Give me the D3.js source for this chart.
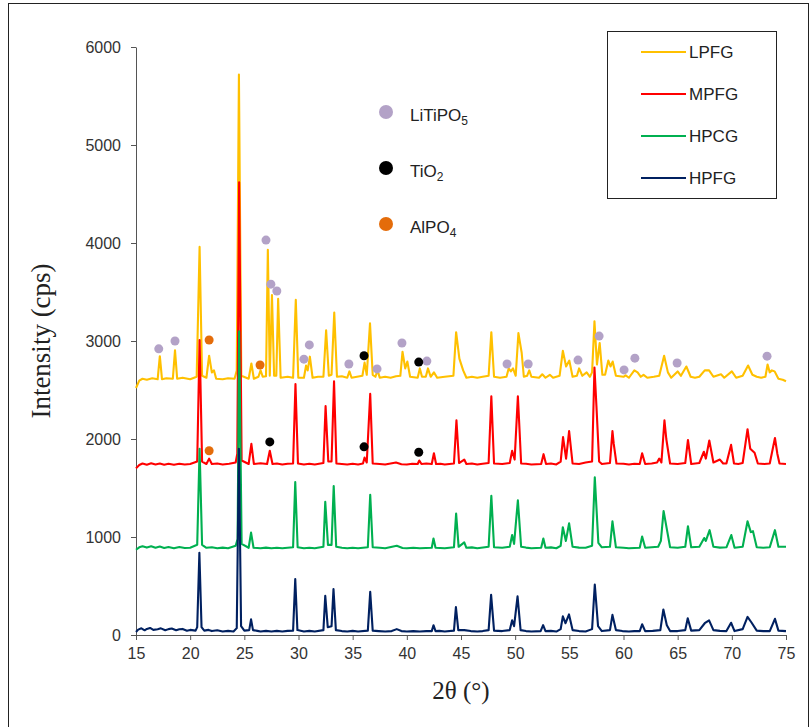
<!DOCTYPE html>
<html>
<head>
<meta charset="utf-8">
<script src="https://cdn.jsdelivr.net/npm/d3@7"></script>
<style>
  body { margin: 0; background: #fff; }
  svg { display: block; }
</style>
</head>
<body>
<div id="chart_res"></div>
<script>
// XRD patterns, [2theta, cps] (already offset)
const LPFG = [[15,2520],[15.3,2595],[15.6,2615],[16,2605],[16.5,2620],[17,2610],[17.2,2845],[17.4,2610],[17.8,2620],[18.4,2615],[18.6,2905],[18.8,2615],[19.3,2625],[20,2610],[20.6,2635],[20.87,3960],[21.1,2645],[21.5,2625],[21.75,2850],[22.0,2680],[22.2,2700],[22.4,2615],[23,2610],[23.5,2620],[24.1,2615],[24.3,2700],[24.5,5720],[24.72,2645],[25.4,2615],[25.65,2770],[25.88,2615],[26.3,2635],[26.5,2700],[26.7,2635],[27.0,2640],[27.17,3930],[27.35,2645],[27.55,3470],[27.75,2645],[27.95,2645],[28.12,3430],[28.35,2625],[29.0,2635],[29.5,2625],[29.75,3420],[29.98,2625],[30.5,2625],[30.7,2750],[30.85,2700],[31.05,2840],[31.3,2625],[31.8,2635],[32.3,2635],[32.55,3110],[32.8,2645],[33.05,2655],[33.3,3290],[33.55,2635],[34.0,2640],[34.5,2625],[34.7,2690],[34.9,2625],[35.4,2635],[35.9,2645],[36.1,2780],[36.3,2655],[36.6,3180],[36.85,2655],[37.1,2635],[37.3,2700],[37.5,2625],[38.0,2635],[38.5,2625],[39.0,2640],[39.4,2645],[39.6,2890],[39.85,2720],[40.05,2790],[40.3,2635],[41.0,2625],[41.2,2720],[41.4,2635],[41.75,2635],[41.95,2720],[42.2,2635],[42.5,2680],[42.8,2625],[43.5,2635],[44.3,2645],[44.55,3090],[44.85,2820],[45.2,2700],[45.5,2625],[46.0,2635],[46.5,2625],[47.0,2635],[47.55,2645],[47.8,3090],[48.05,2635],[48.6,2625],[49.2,2635],[49.4,2720],[49.6,2690],[49.8,2720],[50.05,2645],[50.3,3080],[50.6,2880],[50.8,2635],[51.1,2645],[51.3,2700],[51.5,2635],[52.2,2625],[52.5,2660],[52.8,2625],[53.2,2655],[53.5,2625],[54.1,2645],[54.4,2900],[54.7,2740],[55.0,2800],[55.3,2635],[55.7,2645],[55.9,2720],[56.2,2645],[56.6,2680],[56.9,2635],[57.1,2680],[57.32,3200],[57.55,2760],[57.8,2980],[58.05,2655],[58.3,2655],[58.6,2800],[58.8,2740],[59.0,2790],[59.3,2645],[60.0,2635],[60.2,2650],[60.5,2625],[61.0,2700],[61.3,2680],[61.6,2635],[61.85,2655],[62.2,2625],[62.8,2635],[63.3,2645],[63.75,2850],[64.1,2680],[64.4,2625],[65.0,2690],[65.3,2645],[65.8,2740],[66.2,2635],[66.6,2625],[67,2635],[67.5,2700],[67.9,2700],[68.3,2635],[69.0,2660],[69.3,2625],[70.0,2690],[70.4,2625],[71.0,2645],[71.5,2750],[71.9,2655],[72.3,2635],[72.7,2625],[73.1,2635],[73.3,2760],[73.5,2680],[73.7,2700],[73.95,2690],[74.3,2615],[74.7,2605],[75,2590]];

const MPFG = [[15,1700],[15.3,1735],[15.6,1750],[16,1738],[16.4,1752],[16.8,1740],[17.2,1750],[17.6,1738],[18,1748],[18.5,1738],[19,1748],[19.5,1740],[20,1745],[20.65,1770],[20.87,3010],[21.1,1770],[21.5,1745],[21.75,1800],[22,1745],[22.5,1750],[23,1740],[23.6,1748],[24.2,1760],[24.35,1850],[24.52,4620],[24.75,1780],[25.4,1745],[25.65,1950],[25.88,1745],[26.5,1752],[27.1,1745],[27.35,1880],[27.6,1745],[28.0,1750],[28.5,1740],[29.0,1748],[29.5,1750],[29.72,2560],[29.95,1750],[30.5,1740],[31.0,1748],[31.5,1740],[32.3,1755],[32.5,2335],[32.75,1770],[33.05,1770],[33.28,2590],[33.5,1750],[34.0,1745],[34.5,1740],[35.0,1748],[35.5,1740],[35.95,1750],[36.1,1810],[36.3,1760],[36.62,2460],[36.85,1750],[37.5,1745],[38,1740],[39,1760],[39.5,1742],[40,1740],[40.5,1748],[41,1745],[41.15,1780],[41.35,1745],[41.8,1750],[42.3,1745],[42.5,1855],[42.7,1745],[43.1,1748],[43.5,1740],[44.35,1750],[44.58,2190],[44.82,1755],[45.3,1790],[45.5,1745],[46.0,1750],[46.5,1740],[47.0,1748],[47.55,1755],[47.8,2435],[48.05,1750],[48.8,1745],[49.5,1755],[49.72,1880],[49.95,1790],[50.25,2435],[50.4,2100],[50.55,1750],[51.0,1748],[51.5,1740],[52.4,1745],[52.62,1845],[52.85,1745],[53.3,1750],[53.8,1740],[54.2,1770],[54.42,2020],[54.7,1800],[54.98,2080],[55.3,1750],[55.9,1745],[56.5,1760],[57.1,1770],[57.32,2730],[57.5,2340],[57.75,1770],[58,1745],[58.75,1755],[58.98,2080],[59.1,1950],[59.35,1750],[60.0,1748],[60.5,1740],[61.0,1748],[61.5,1745],[61.72,1855],[62,1745],[62.6,1750],[63.1,1760],[63.3,1800],[63.5,1760],[63.78,2190],[63.95,2000],[64.3,1750],[65.0,1745],[65.7,1755],[65.95,1990],[66.25,1745],[67,1755],[67.42,1870],[67.6,1800],[67.92,1985],[68.3,1760],[68.9,1790],[69.2,1750],[69.5,1750],[69.93,1940],[70.2,1750],[70.6,1745],[71,1755],[71.45,2100],[71.7,1900],[71.9,1880],[72.1,1860],[72.4,1750],[73.0,1745],[73.5,1750],[73.98,2010],[74.2,1850],[74.4,1750],[75,1745]];

const HPCG = [[15,870],[15.3,895],[15.6,905],[16,892],[16.4,905],[16.8,890],[17.2,902],[17.6,888],[18,898],[18.5,886],[19,898],[19.5,888],[20,890],[20.65,920],[20.87,1900],[21.1,920],[21.5,890],[22.0,895],[22.5,885],[23,892],[23.5,885],[24.2,910],[24.38,980],[24.52,3100],[24.75,930],[25.4,890],[25.62,1045],[25.85,890],[26.5,885],[27.0,892],[27.5,885],[28.0,890],[28.5,885],[29.5,895],[29.7,1560],[29.92,895],[30.5,885],[31.0,891],[31.5,885],[32.3,900],[32.47,1360],[32.72,920],[33.05,920],[33.25,1520],[33.48,900],[34.0,890],[34.5,885],[35.0,891],[35.5,885],[36.4,895],[36.62,1430],[36.85,895],[37.5,890],[38,885],[39.07,910],[39.6,887],[40,885],[40.6,891],[41.2,885],[42.3,890],[42.46,985],[42.65,890],[43.5,885],[44.35,895],[44.55,1240],[44.78,900],[45.3,945],[45.5,890],[46.0,894],[46.5,885],[47.55,900],[47.8,1420],[48.05,895],[48.8,890],[49.5,900],[49.72,1020],[49.9,930],[50.25,1375],[50.55,900],[51.0,892],[51.5,885],[52.4,890],[52.6,985],[52.8,890],[53.3,894],[53.8,885],[54.2,910],[54.4,1100],[54.68,960],[54.98,1140],[55.3,900],[55.9,892],[56.5,890],[57.1,910],[57.35,1610],[57.68,940],[58,895],[58.75,900],[58.98,1160],[59.3,895],[60.0,890],[60.5,885],[61.5,890],[61.72,1005],[62,890],[62.6,895],[63.2,900],[63.45,960],[63.7,1265],[64.0,1080],[64.3,895],[65.0,890],[65.7,900],[65.95,1110],[66.25,895],[67,900],[67.45,990],[67.6,960],[67.95,1070],[68.3,900],[68.9,892],[69.5,895],[69.95,1020],[70.25,890],[71,900],[71.45,1160],[71.75,1050],[71.95,1060],[72.3,895],[72.9,890],[73.5,895],[73.98,1070],[74.3,900],[75,900]];

const HPFG = [[15,30],[15.2,55],[15.5,68],[15.8,48],[16,62],[16.3,72],[16.6,52],[17,58],[17.3,68],[17.7,48],[18,60],[18.3,66],[18.7,48],[19,58],[19.3,62],[19.7,44],[20,52],[20.5,45],[20.65,80],[20.85,840],[21.05,80],[21.3,45],[21.7,52],[22,40],[22.5,48],[23,35],[23.5,42],[24,35],[24.3,70],[24.5,1900],[24.7,90],[25.0,45],[25.45,50],[25.62,160],[25.8,50],[26.2,42],[26.5,35],[27.0,42],[27.5,35],[28.0,42],[28.5,35],[29.0,42],[29.5,45],[29.7,570],[29.9,50],[30.5,35],[31.0,42],[31.5,35],[32.3,50],[32.47,400],[32.7,80],[33.05,90],[33.23,470],[33.45,50],[34.0,40],[34.5,35],[35.0,42],[35.5,35],[36.4,45],[36.62,440],[36.85,45],[37.4,40],[38,35],[38.6,40],[39.07,60],[39.5,40],[40,35],[40.6,40],[41.2,35],[41.8,40],[42.3,40],[42.46,100],[42.65,40],[43.0,42],[43.5,35],[44.35,45],[44.53,285],[44.75,50],[45.3,50],[45.9,40],[46.5,35],[47.0,40],[47.55,50],[47.78,410],[48.05,45],[48.8,40],[49.5,50],[49.72,150],[49.9,90],[50.22,395],[50.5,50],[51.0,40],[51.5,35],[52.35,40],[52.58,100],[52.8,40],[53.3,42],[53.8,35],[54.2,60],[54.4,190],[54.65,120],[54.97,210],[55.3,50],[55.9,40],[56.5,35],[57.1,60],[57.35,515],[57.65,90],[58,40],[58.75,50],[58.98,205],[59.3,50],[59.9,40],[60.5,35],[61.0,40],[61.5,40],[61.72,110],[62,40],[62.7,42],[63.4,50],[63.68,260],[64,100],[64.3,40],[65.0,40],[65.7,50],[65.93,170],[66.25,45],[67,50],[67.5,120],[67.9,150],[68.3,50],[68.9,42],[69.5,40],[69.93,125],[70.25,40],[71.0,60],[71.45,185],[71.8,130],[72.3,45],[72.9,40],[73.5,40],[73.98,165],[74.3,45],[75,40]];

// phase markers, [2theta, cps]
const liTiPO5 = [[17.1,2920],[18.6,3000],[27.0,4030],[27.45,3580],[28.0,3510],[30.5,2815],[31.0,2960],[34.65,2765],[37.25,2715],[39.55,2980],[41.85,2795],[49.25,2765],[51.2,2765],[55.8,2805],[57.75,3050],[60.05,2705],[61.05,2825],[64.95,2775],[73.25,2845]];
const tiO2 = [[36.05,2850],[41.1,2785],[27.35,1970],[36.05,1920],[41.1,1865]];
const alPO4 = [[21.75,3010],[26.45,2755],[21.75,1880]];

const seriesNames = ["LPFG", "MPFG", "HPCG", "HPFG"];
const seriesData = [LPFG, MPFG, HPCG, HPFG];
const seriesColors = ["#ffc000", "#ff0000", "#00b050", "#002060"];

const xTicks = [15, 20, 25, 30, 35, 40, 45, 50, 55, 60, 65, 70, 75];
const yTicks = [0, 1000, 2000, 3000, 4000, 5000, 6000];

// dimensions
const margin = {top: 47, right: 26, bottom: 92, left: 136},
    svgWidth = 812, svgHeight = 727,
    width = svgWidth - margin.left - margin.right,
    height = svgHeight - margin.top - margin.bottom;

const svg = d3.select("#chart_res").append("svg")
    .attr("width", svgWidth)
    .attr("height", svgHeight);

svg.append("rect")
    .attr("width", svgWidth).attr("height", svgHeight)
    .attr("fill", "#fff");

// outer frame
svg.append("rect")
    .attr("x", 8.5).attr("y", 3.5)
    .attr("width", 800).attr("height", 740)
    .attr("fill", "none")
    .attr("stroke", "#222")
    .attr("stroke-width", 1);

const g = svg.append("g")
    .attr("transform", "translate(" + margin.left + "," + margin.top + ")");

const x = d3.scaleLinear().domain([15, 75]).range([0, width]);
const y = d3.scaleLinear().domain([0, 6000]).range([height, 0]);

// axes
const xAxis = g.append("g")
    .attr("transform", "translate(0," + height + ")")
    .call(d3.axisBottom(x).tickValues(xTicks).tickSize(5).tickSizeOuter(0).tickPadding(8));
const yAxis = g.append("g")
    .call(d3.axisLeft(y).tickValues(yTicks).tickSize(5).tickSizeOuter(0).tickPadding(10).tickFormat(d3.format("d")));

[xAxis, yAxis].forEach(function(a) {
  a.select(".domain").attr("stroke", "#555");
  a.selectAll(".tick line").attr("stroke", "#555");
  a.selectAll(".tick text")
      .attr("fill", "#333")
      .style("font-family", "'Liberation Sans', Arial, sans-serif")
      .style("font-size", "16px");
});

// axis titles
svg.append("text")
    .attr("transform", "translate(50,341) rotate(-90)")
    .attr("text-anchor", "middle")
    .style("font-family", "'Liberation Serif', 'Times New Roman', serif")
    .style("font-size", "27px")
    .attr("fill", "#222")
    .text("Intensity (cps)");
svg.append("text")
    .attr("x", 461).attr("y", 699)
    .attr("text-anchor", "middle")
    .style("font-family", "'Liberation Serif', 'Times New Roman', serif")
    .style("font-size", "25px")
    .attr("fill", "#222")
    .text("2θ (°)");

// patterns
const line = d3.line()
    .x(function(d) { return x(d[0]); })
    .y(function(d) { return y(d[1]); });

g.selectAll("path.pattern")
    .data(seriesData)
    .join("path")
      .attr("class", "pattern")
      .attr("d", line)
      .attr("fill", "none")
      .attr("stroke", function(d, i) { return seriesColors[i]; })
      .attr("stroke-width", 2.1)
      .attr("stroke-linejoin", "round");

// phase markers
const phases = [
  {name: "LiTiPO", sub: "5", pts: liTiPO5, color: "#b3a2c7"},
  {name: "TiO", sub: "2", pts: tiO2, color: "#000000"},
  {name: "AlPO", sub: "4", pts: alPO4, color: "#e46c0a"}
];

phases.forEach(function(p) {
  g.selectAll(null)
      .data(p.pts)
      .join("circle")
        .attr("cx", function(d) { return x(d[0]); })
        .attr("cy", function(d) { return y(d[1]); })
        .attr("r", 4.5)
        .attr("fill", p.color);
});

// phase legend
phases.forEach(function(p, i) {
  const ly = 112 + i * 56;
  svg.append("circle")
      .attr("cx", 386).attr("cy", ly)
      .attr("r", 7)
      .attr("fill", p.color);
  const t = svg.append("text")
      .attr("x", 410).attr("y", ly + 9)
      .style("font-family", "'Liberation Sans', Arial, sans-serif")
      .style("font-size", "17px")
      .attr("fill", "#222");
  t.append("tspan").text(p.name);
  t.append("tspan").attr("dy", 4).style("font-size", "12px").text(p.sub);
});

// series legend
svg.append("rect")
    .attr("x", 607.5).attr("y", 31.5)
    .attr("width", 169).attr("height", 167)
    .attr("fill", "#fff")
    .attr("stroke", "#222");

seriesNames.forEach(function(name, i) {
  const ly = 52 + i * 42;
  svg.append("line")
      .attr("x1", 641).attr("x2", 686)
      .attr("y1", ly).attr("y2", ly)
      .attr("stroke", seriesColors[i])
      .attr("stroke-width", 2);
  svg.append("text")
      .attr("x", 689).attr("y", ly + 6)
      .style("font-family", "'Liberation Sans', Arial, sans-serif")
      .style("font-size", "17px")
      .attr("fill", "#222")
      .text(name);
});
</script>
</body>
</html>
